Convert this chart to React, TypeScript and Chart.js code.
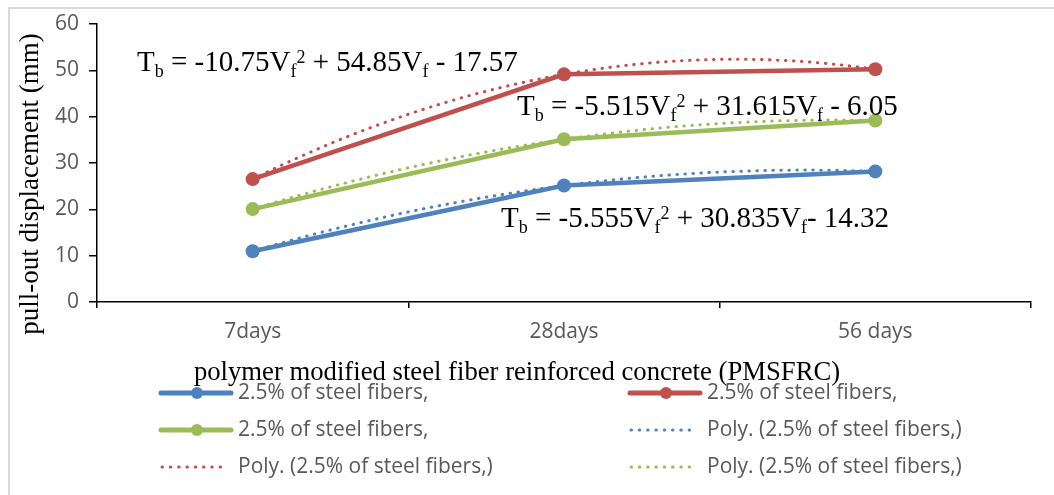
import React, { useEffect, useRef } from "react";
import { Chart, registerables } from "chart.js";

Chart.register(...registerables);

// ---- data ----
const categories = ["7days", "28days", "56 days"];
const blueValues = [10.96, 25.13, 28.19];
const redValues = [26.53, 49.13, 50.23];
const greenValues = [20.05, 35.12, 39.16];
const yMin = 0;
const yMax = 60;
const yStep = 10;
const trendOrder = 2;
const seriesLabel = "2.5% of steel fibers,";
const trendLabel = "Poly. (2.5% of steel fibers,)";
const xTitle = "polymer modified steel fiber reinforced concrete (PMSFRC)";
const yTitle = "pull-out displacement (mm)";

type Run = [string, "n" | "sub" | "sup"];
const redEquation: Run[] = [["T", "n"], ["b", "sub"], [" = -10.75V", "n"], ["f", "sub"], ["2", "sup"], [" + 54.85V", "n"], ["f", "sub"], [" - 17.57", "n"]];
const greenEquation: Run[] = [["T", "n"], ["b", "sub"], [" = -5.515V", "n"], ["f", "sub"], ["2", "sup"], [" + 31.615V", "n"], ["f", "sub"], [" - 6.05", "n"]];
const blueEquation: Run[] = [["T", "n"], ["b", "sub"], [" = -5.555V", "n"], ["f", "sub"], ["2", "sup"], [" + 30.835V", "n"], ["f", "sub"], ["- 14.32", "n"]];

const BLUE = "#4F81BD";
const RED = "#C0504D";
const GREEN = "#9BBB59";
const SANS = '"Open Sans", sans-serif';
const SERIF = '"Liberation Serif", "Times New Roman", serif';

function drawRuns(ctx: CanvasRenderingContext2D, runs: Run[], x: number, y: number) {
  let cx = x;
  for (const [t, k] of runs) {
    if (k === "n") {
      ctx.font = `29px ${SERIF}`;
      ctx.fillText(t, cx, y);
    } else if (k === "sub") {
      ctx.font = `18px ${SERIF}`;
      ctx.fillText(t, cx, y + 6);
    } else {
      ctx.font = `18px ${SERIF}`;
      ctx.fillText(t, cx, y - 8);
    }
    cx += ctx.measureText(t).width;
  }
}

// least-squares polynomial fit (like a spreadsheet "Poly." trendline), x = 1..n
function polyFit(values: number[], order: number): number[] {
  const n = order + 1;
  const A: number[][] = Array.from({ length: n }, () => new Array(n + 1).fill(0));
  values.forEach((v, i) => {
    const x = i + 1;
    for (let r = 0; r < n; r++) {
      for (let c = 0; c < n; c++) A[r][c] += Math.pow(x, r + c);
      A[r][n] += v * Math.pow(x, r);
    }
  });
  for (let p = 0; p < n; p++) {
    let best = p;
    for (let r = p + 1; r < n; r++) if (Math.abs(A[r][p]) > Math.abs(A[best][p])) best = r;
    [A[p], A[best]] = [A[best], A[p]];
    for (let r = 0; r < n; r++) {
      if (r === p) continue;
      const f = A[r][p] / A[p][p];
      for (let c = p; c <= n; c++) A[r][c] -= f * A[p][c];
    }
  }
  return A.map((row, i) => row[n] / row[i]);
}

const trendPlugin = {
  id: "polyTrend",
  beforeDatasetsDraw(chart: any) {
    const ctx = chart.ctx as CanvasRenderingContext2D;
    const xs = chart.scales.x;
    const ys = chart.scales.y;
    chart.data.datasets.forEach((d: any) => {
      if (!d.isTrend) return;
      const coef = polyFit(d.data, trendOrder);
      const n = d.data.length;
      ctx.save();
      ctx.strokeStyle = d.borderColor;
      ctx.lineWidth = 3;
      ctx.lineCap = "round";
      ctx.setLineDash([0.5, 7.5]);
      ctx.beginPath();
      const steps = 200;
      for (let s = 0; s <= steps; s++) {
        const idx = ((n - 1) * s) / steps;
        const xv = idx + 1;
        let yv = 0;
        coef.forEach((c, k) => (yv += c * Math.pow(xv, k)));
        const px = xs.getPixelForValue(idx);
        const py = ys.getPixelForValue(yv);
        if (s === 0) ctx.moveTo(px, py);
        else ctx.lineTo(px, py);
      }
      ctx.stroke();
      ctx.restore();
    });
  },
};

const decorPlugin = {
  id: "decor",
  beforeDraw(chart: any) {
    const ctx = chart.ctx as CanvasRenderingContext2D;
    ctx.save();
    ctx.fillStyle = "#ffffff";
    ctx.fillRect(0, 0, chart.width, chart.height);
    ctx.strokeStyle = "#d9d9d9";
    ctx.lineWidth = 2;
    ctx.beginPath();
    ctx.moveTo(9, chart.height);
    ctx.lineTo(9, 8);
    ctx.lineTo(chart.width, 8);
    ctx.stroke();
    ctx.restore();
  },
  afterDraw(chart: any) {
    const ctx = chart.ctx as CanvasRenderingContext2D;
    ctx.save();
    ctx.fillStyle = "#000";
    ctx.textAlign = "center";
    ctx.textBaseline = "alphabetic";
    ctx.font = `26.7px ${SERIF}`;
    ctx.fillText(xTitle, 517, 380);
    ctx.save();
    ctx.translate(38, 184);
    ctx.rotate(-Math.PI / 2);
    ctx.font = `27px ${SERIF}`;
    ctx.fillText(yTitle, 0, 0);
    ctx.restore();

    ctx.textAlign = "left";
    drawRuns(ctx, redEquation, 137, 71);
    drawRuns(ctx, greenEquation, 517, 115);
    drawRuns(ctx, blueEquation, 501, 227);

    const cols = [161, 630];
    const rows = [393, 430, 467];
    chart.data.datasets.forEach((d: any, i: number) => {
      const x = cols[i % 2];
      const y = rows[Math.floor(i / 2)];
      ctx.save();
      ctx.strokeStyle = d.borderColor;
      ctx.beginPath();
      if (d.isTrend) {
        ctx.setLineDash([0.5, 7.8]);
        ctx.lineWidth = 3;
        ctx.lineCap = "round";
        ctx.moveTo(x + 1, y);
        ctx.lineTo(x + 66, y);
        ctx.stroke();
      } else {
        ctx.lineWidth = 5;
        ctx.lineCap = "round";
        ctx.moveTo(x, y);
        ctx.lineTo(x + 70, y);
        ctx.stroke();
        ctx.fillStyle = d.borderColor;
        ctx.beginPath();
        ctx.arc(x + 36, y, 6, 0, Math.PI * 2);
        ctx.fill();
      }
      ctx.restore();
      ctx.fillStyle = "#595959";
      ctx.font = `21px ${SANS}`;
      ctx.textBaseline = "middle";
      ctx.textAlign = "left";
      ctx.fillText(d.label, x + 77, y);
    });
    ctx.restore();
  },
};

function solid(label: string, data: number[], color: string) {
  return {
    label,
    data,
    borderColor: color,
    backgroundColor: color,
    borderWidth: 4.5,
    pointRadius: 7,
    pointBorderWidth: 0,
    pointBackgroundColor: color,
    tension: 0,
    fill: false,
  };
}

function trend(label: string, data: number[], color: string) {
  return {
    label,
    data,
    isTrend: true,
    borderColor: color,
    backgroundColor: color,
    showLine: false,
    pointRadius: 0,
    pointHoverRadius: 0,
    fill: false,
  };
}

export default function App() {
  const ref = useRef<HTMLCanvasElement | null>(null);
  useEffect(() => {
    if (!ref.current) return;
    const chart = new Chart(ref.current, {
      type: "line",
      data: {
        labels: categories,
        datasets: [
          solid(seriesLabel, blueValues, BLUE),
          solid(seriesLabel, redValues, RED),
          solid(seriesLabel, greenValues, GREEN),
          trend(trendLabel, blueValues, BLUE),
          trend(trendLabel, redValues, RED),
          trend(trendLabel, greenValues, GREEN),
        ] as any,
      },
      options: {
        responsive: false,
        animation: false,
        devicePixelRatio: 1,
        layout: { padding: { top: 24, right: 23, left: 0, bottom: 0 } },
        plugins: { legend: { display: false }, tooltip: { enabled: false }, title: { display: false } },
        scales: {
          x: {
            type: "category",
            offset: true,
            grid: { display: true, drawOnChartArea: false, drawTicks: true, tickLength: 6, color: "#000", offset: true, lineWidth: 1.5 },
            border: { display: true, color: "#000", width: 1.5 },
            ticks: { color: "#595959", font: { family: SANS, size: 21 }, padding: 11, maxRotation: 0 },
            afterFit: (s: any) => { s.height = 495 - 302; },
          },
          y: {
            min: yMin,
            max: yMax,
            grid: { display: true, drawOnChartArea: false, drawTicks: true, tickLength: 8, color: "#000", lineWidth: 1.5 },
            border: { display: true, color: "#000", width: 1.5 },
            ticks: { stepSize: yStep, color: "#595959", font: { family: SANS, size: 21 }, padding: 10 },
            afterFit: (s: any) => { s.width = 97; },
          },
        },
      } as any,
      plugins: [decorPlugin, trendPlugin],
    });
    return () => chart.destroy();
  }, []);
  return (
    <div style={{ position: "fixed", left: 0, top: 0, width: 1054, height: 495, background: "#fff" }}>
      <canvas ref={ref} width={1054} height={495} style={{ display: "block" }} />
    </div>
  );
}
